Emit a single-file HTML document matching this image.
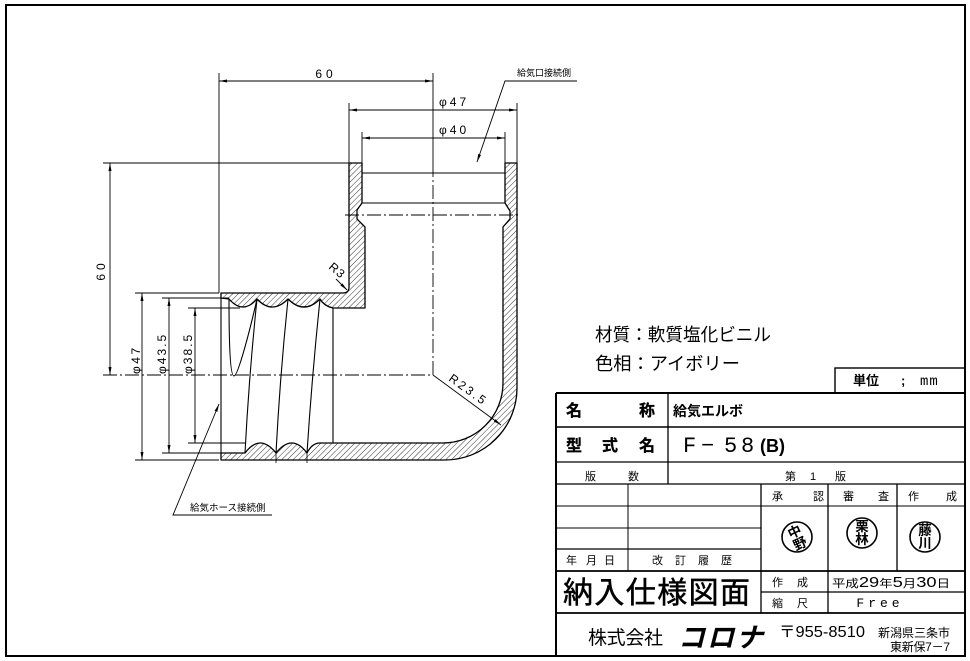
<!DOCTYPE html>
<html><head><meta charset="utf-8"><style>
html,body{margin:0;padding:0;background:#fff;width:970px;height:661px;overflow:hidden}
svg{display:block}
</style></head><body>
<svg width="970" height="661" viewBox="0 0 970 661" xmlns="http://www.w3.org/2000/svg" font-family="'Liberation Sans','Noto Sans CJK JP',sans-serif">
<defs>
<pattern id="h" width="4" height="4" patternUnits="userSpaceOnUse" patternTransform="rotate(45)">
<line x1="0" y1="0" x2="0" y2="4" stroke="#000" stroke-width="0.8"/>
</pattern>
<marker id="ar" markerUnits="userSpaceOnUse" markerWidth="8" markerHeight="3" viewBox="0 0 8 3" refX="8" refY="1.5" orient="auto-start-reverse">
<path d="M0,0 L8,1.5 L0,3 Z" fill="#000"/>
</marker>
</defs>
<rect width="970" height="661" fill="#fff"/>
<rect x="6" y="5" width="959" height="651" fill="none" stroke="#000" stroke-width="2"/>

<g stroke="#000" fill="none" stroke-width="0.9">
<line x1="219" y1="73" x2="219" y2="293"/>
<line x1="433" y1="73" x2="433" y2="163"/>
<line x1="219" y1="81" x2="433" y2="81" marker-start="url(#ar)" marker-end="url(#ar)"/>
<line x1="349" y1="103" x2="349" y2="163"/>
<line x1="517" y1="103" x2="517" y2="163"/>
<line x1="349" y1="110" x2="517" y2="110" marker-start="url(#ar)" marker-end="url(#ar)"/>
<line x1="362" y1="132" x2="362" y2="163"/>
<line x1="505" y1="132" x2="505" y2="163"/>
<line x1="362" y1="138" x2="505" y2="138" marker-start="url(#ar)" marker-end="url(#ar)"/>
<line x1="103" y1="163" x2="349" y2="163"/>
<line x1="110" y1="163" x2="110" y2="375" marker-start="url(#ar)" marker-end="url(#ar)"/>
<line x1="135" y1="293" x2="219" y2="293"/>
<line x1="135" y1="460" x2="219" y2="460"/>
<line x1="142" y1="293" x2="142" y2="460" marker-start="url(#ar)" marker-end="url(#ar)"/>
<line x1="162" y1="298" x2="229" y2="298"/>
<line x1="162" y1="453" x2="245" y2="453"/>
<line x1="169" y1="298" x2="169" y2="453" marker-start="url(#ar)" marker-end="url(#ar)"/>
<line x1="188" y1="308" x2="240" y2="308"/>
<line x1="188" y1="443" x2="245" y2="443"/>
<line x1="195" y1="308" x2="195" y2="443" marker-start="url(#ar)" marker-end="url(#ar)"/>
<line x1="433" y1="163" x2="433" y2="375" stroke-dasharray="14 3 2 3"/>
<line x1="103" y1="375" x2="433" y2="375" stroke-dasharray="14 3 2 3"/>
<line x1="345" y1="215" x2="521" y2="215" stroke-dasharray="14 3 2 3"/>
<line x1="433" y1="375" x2="501" y2="425" marker-end="url(#ar)"/>
<line x1="336" y1="279" x2="347" y2="290" marker-end="url(#ar)"/>
<polyline points="577,81 505,81 477,162" marker-end="url(#ar)"/>
<polyline points="272,515 173,515 219,404" marker-end="url(#ar)"/>
</g>

<g stroke="#000" stroke-width="1.3" fill="url(#h)" stroke-linejoin="round">
<path d="M349,163 L362,163 L362,203 L357,210 L357,219 L365,227 L365,308 L333,308 Q324,306 320,299 Q304,315 288,299 Q272,315 257,299 Q243,315 229,299 L221,298 L221,293 L343,293 Q349,293 349,287 Z"/>
<path d="M517,163 L517,388 A72,72 0 0 1 445,460 L221,460 L221,453 L245,453 Q260,433 276,453 Q292,433 307,453 Q312,443 320,443 L443,443 A60,60 0 0 0 503,383 L503,227 L510,219 L510,211 L505,203 L505,163 Z"/>
</g>
<g stroke="#000" fill="none" stroke-width="1.1">
<line x1="362" y1="173" x2="505" y2="173"/>
<line x1="362" y1="203" x2="505" y2="203"/>
<line x1="221" y1="298" x2="221" y2="453"/>
<line x1="333" y1="308" x2="333" y2="443"/>
<path d="M257,299 Q249,376 245,453"/>
<path d="M288,299 Q280,376 276,453"/>
<path d="M320,299 Q312,376 307,453"/>
<path d="M229,299 C229,340 230,376 234,376 C238,376 250,330 257,299"/>
<line x1="276" y1="453" x2="276" y2="463" stroke-width="0.8"/>
<line x1="307" y1="453" x2="307" y2="463" stroke-width="0.8"/>
</g>

<g font-size="12" fill="#000">
<text x="326" y="78" text-anchor="middle" letter-spacing="4">60</text>
<text x="439" y="106" letter-spacing="3">φ47</text>
<text x="439" y="134" letter-spacing="3">φ40</text>
<text transform="translate(105,270) rotate(-90)" text-anchor="middle" letter-spacing="4">60</text>
<text transform="translate(140,374) rotate(-90)" letter-spacing="2.5">φ47</text>
<text transform="translate(166,374) rotate(-90)" letter-spacing="2">φ43.5</text>
<text transform="translate(192,374) rotate(-90)" letter-spacing="2">φ38.5</text>
<text transform="translate(448,380) rotate(36)" letter-spacing="2.5">R23.5</text>
<text transform="translate(328,268) rotate(40)" letter-spacing="1">R3</text>
<text x="517" y="76" font-size="9">給気口接続側</text>
<text x="190" y="511" font-size="9.5">給気ホース接続側</text>
</g>

<g fill="#000" font-size="18">
<text x="595" y="341" textLength="176" lengthAdjust="spacingAndGlyphs">材質：軟質塩化ビニル</text>
<text x="595" y="370" textLength="145" lengthAdjust="spacingAndGlyphs">色相：アイボリー</text>
</g>

<g stroke="#000" fill="none">
<rect x="835" y="368" width="130" height="25" stroke-width="1.4"/>
<line x1="556" y1="393" x2="965" y2="393" stroke-width="2"/>
<line x1="556" y1="393" x2="556" y2="656" stroke-width="2"/>
<line x1="556" y1="427" x2="965" y2="427" stroke-width="1.5"/>
<line x1="556" y1="462" x2="965" y2="462" stroke-width="1.3"/>
<line x1="556" y1="484" x2="965" y2="484" stroke-width="1.3"/>
<line x1="668" y1="393" x2="668" y2="484" stroke-width="1.3"/>
<line x1="556" y1="506" x2="965" y2="506" stroke-width="1"/>
<line x1="556" y1="528" x2="761" y2="528" stroke-width="1"/>
<line x1="556" y1="549" x2="761" y2="549" stroke-width="1.2"/>
<line x1="556" y1="571" x2="965" y2="571" stroke-width="1.8"/>
<line x1="628" y1="484" x2="628" y2="571" stroke-width="1"/>
<line x1="761" y1="484" x2="761" y2="613" stroke-width="1.3"/>
<line x1="828" y1="484" x2="828" y2="613" stroke-width="1.3"/>
<line x1="897" y1="484" x2="897" y2="571" stroke-width="1.3"/>
<line x1="761" y1="592" x2="965" y2="592" stroke-width="1.2"/>
<line x1="556" y1="613" x2="965" y2="613" stroke-width="1.8"/>
<circle cx="797" cy="537" r="15" stroke-width="1.6"/>
<circle cx="862" cy="533" r="15" stroke-width="1.6"/>
<circle cx="925" cy="537" r="15" stroke-width="1.6"/>
</g>

<g fill="#000">
<text x="853" y="385" font-size="13" font-weight="bold">単位</text>
<text x="901" y="385" font-size="13" font-weight="bold">;</text>
<text x="920" y="385" font-size="14" font-family="'Liberation Mono',monospace" letter-spacing="1">mm</text>

<g font-size="16" font-weight="bold" stroke="#000" stroke-width="0.3">
<text x="566" y="416">名</text><text x="639" y="416">称</text>
<text x="566" y="451">型</text><text x="602" y="451">式</text><text x="639" y="451">名</text>
</g>
<text x="673" y="416" font-size="14" font-weight="bold" textLength="70" lengthAdjust="spacingAndGlyphs">給気エルボ</text>
<g font-size="22" font-family="'Liberation Mono',monospace">
<text x="683" y="452">F</text>
<text x="701" y="452">−</text>
<text x="724" y="452">5</text>
<text x="741" y="452">8</text>
<text x="760" y="452" font-size="18" font-weight="bold" font-family="'Liberation Sans',sans-serif">(B)</text>
</g>
<g font-size="11">
<text x="585" y="480">版</text><text x="628" y="480">数</text>
<text x="785" y="480">第</text><text x="810" y="480">1</text><text x="835" y="480">版</text>
<text x="772" y="500">承</text><text x="813" y="500">認</text>
<text x="843" y="500">審</text><text x="878" y="500">査</text>
<text x="908" y="500">作</text><text x="946" y="500">成</text>
<text x="566" y="564">年</text><text x="586" y="564">月</text><text x="604" y="564">日</text>
<text x="652" y="564">改</text><text x="675" y="564">訂</text><text x="698" y="564">履</text><text x="721" y="564">歴</text>
<text x="772" y="586">作</text><text x="797" y="586">成</text>
<text x="772" y="607">縮</text><text x="797" y="607">尺</text>
</g>
<text x="832" y="587" font-size="11" textLength="118" lengthAdjust="spacingAndGlyphs">平成<tspan font-size="15">29</tspan>年<tspan font-size="15">5</tspan>月<tspan font-size="15">30</tspan>日</text>
<text x="880" y="607" font-size="13" font-family="'Liberation Mono',monospace" text-anchor="middle" letter-spacing="4">Free</text>
<text x="563" y="603" font-size="30" textLength="187" lengthAdjust="spacing" stroke="#000" stroke-width="0.5">納入仕様図面</text>
<text x="588" y="644" font-size="19" textLength="75" lengthAdjust="spacing">株式会社</text>
<text x="678" y="647" font-size="27" font-weight="bold" font-style="italic" textLength="85" lengthAdjust="spacing">コロナ</text>
<text x="779" y="637" font-size="16" textLength="86" lengthAdjust="spacingAndGlyphs">〒955-8510</text>
<text x="950" y="637" font-size="12" text-anchor="end" textLength="72" lengthAdjust="spacing">新潟県三条市</text>
<text x="950" y="651" font-size="12" text-anchor="end" textLength="60" lengthAdjust="spacing">東新保7－7</text>
<g font-size="13.5" font-weight="bold" text-anchor="middle">
<g transform="translate(797,537) rotate(-25)"><text x="0" y="-1">中</text><text x="0" y="12">野</text></g>
<text x="862" y="531">栗</text><text x="862" y="544">林</text>
<text x="925" y="535">藤</text><text x="925" y="548">川</text>
</g>
</g>
</svg>
</body></html>
